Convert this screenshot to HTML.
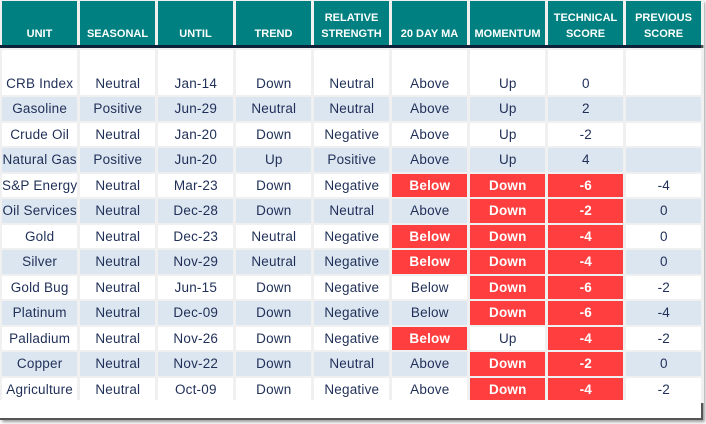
<!DOCTYPE html>
<html><head><style>
body{margin:0;width:706px;height:424px;background:#fff;overflow:hidden;font-family:"Liberation Sans",sans-serif;}
#frame{position:absolute;left:0;top:0;width:701px;height:418px;background:#fff;border-right:2px solid #555;border-bottom:2px solid #555;box-shadow:2px 2px 3px #999;}
table{position:absolute;left:0;table-layout:fixed;border-collapse:separate;background:#f0f0f0;}
td{width:75px;padding:0;text-align:center;overflow:hidden;white-space:nowrap;}
#hd{top:0;border-spacing:3px 0;margin-left:-1px;padding-top:1px;}
#hd td{background:#008080;color:#fff;font-weight:bold;font-size:11px;height:44px;vertical-align:bottom;padding-bottom:3px;box-sizing:border-box;line-height:16px;}
#line{position:absolute;left:0;top:45px;width:701px;height:3px;background:#0d2238;}
#bd{top:48px;border-spacing:3px 2px;margin-left:-1px;}
#bd td{height:23px;font-size:13.5px;color:#1f2f57;background:#fff;line-height:23px;letter-spacing:0.2px}
#bd tr.a td{background:#dce6f1;height:24px;line-height:24px;}
#bd tr.f td{height:45px;vertical-align:bottom;line-height:22px;}
#bd td.r{background:#ff3f3f !important;color:#fff;font-weight:bold;}
#cover{position:absolute;left:0;top:400px;width:701px;height:5px;background:#fff;}
</style></head><body>
<div id="frame"></div>
<table id="hd"><tr><td>UNIT</td><td>SEASONAL</td><td>UNTIL</td><td>TREND</td><td>RELATIVE<br>STRENGTH</td><td>20 DAY MA</td><td>MOMENTUM</td><td>TECHNICAL<br>SCORE</td><td>PREVIOUS<br>SCORE</td></tr></table>
<div id="line"></div>
<table id="bd">
<tr class="f"><td>CRB Index</td><td>Neutral</td><td>Jan-14</td><td>Down</td><td>Neutral</td><td>Above</td><td>Up</td><td>0</td><td></td></tr>
<tr class="a"><td>Gasoline</td><td>Positive</td><td>Jun-29</td><td>Neutral</td><td>Neutral</td><td>Above</td><td>Up</td><td>2</td><td></td></tr>
<tr><td>Crude Oil</td><td>Neutral</td><td>Jan-20</td><td>Down</td><td>Negative</td><td>Above</td><td>Up</td><td>-2</td><td></td></tr>
<tr class="a"><td>Natural Gas</td><td>Positive</td><td>Jun-20</td><td>Up</td><td>Positive</td><td>Above</td><td>Up</td><td>4</td><td></td></tr>
<tr><td>S&amp;P Energy</td><td>Neutral</td><td>Mar-23</td><td>Down</td><td>Negative</td><td class="r">Below</td><td class="r">Down</td><td class="r">-6</td><td>-4</td></tr>
<tr class="a"><td>Oil Services</td><td>Neutral</td><td>Dec-28</td><td>Down</td><td>Neutral</td><td>Above</td><td class="r">Down</td><td class="r">-2</td><td>0</td></tr>
<tr><td>Gold</td><td>Neutral</td><td>Dec-23</td><td>Neutral</td><td>Negative</td><td class="r">Below</td><td class="r">Down</td><td class="r">-4</td><td>0</td></tr>
<tr class="a"><td>Silver</td><td>Neutral</td><td>Nov-29</td><td>Neutral</td><td>Negative</td><td class="r">Below</td><td class="r">Down</td><td class="r">-4</td><td>0</td></tr>
<tr><td>Gold Bug</td><td>Neutral</td><td>Jun-15</td><td>Down</td><td>Negative</td><td>Below</td><td class="r">Down</td><td class="r">-6</td><td>-2</td></tr>
<tr class="a"><td>Platinum</td><td>Neutral</td><td>Dec-09</td><td>Down</td><td>Negative</td><td>Below</td><td class="r">Down</td><td class="r">-6</td><td>-4</td></tr>
<tr><td>Palladium</td><td>Neutral</td><td>Nov-26</td><td>Down</td><td>Negative</td><td class="r">Below</td><td>Up</td><td class="r">-4</td><td>-2</td></tr>
<tr class="a"><td>Copper</td><td>Neutral</td><td>Nov-22</td><td>Down</td><td>Neutral</td><td>Above</td><td class="r">Down</td><td class="r">-2</td><td>0</td></tr>
<tr><td>Agriculture</td><td>Neutral</td><td>Oct-09</td><td>Down</td><td>Negative</td><td>Above</td><td class="r">Down</td><td class="r">-4</td><td>-2</td></tr>
</table>
<div id="cover"></div>
</body></html>
